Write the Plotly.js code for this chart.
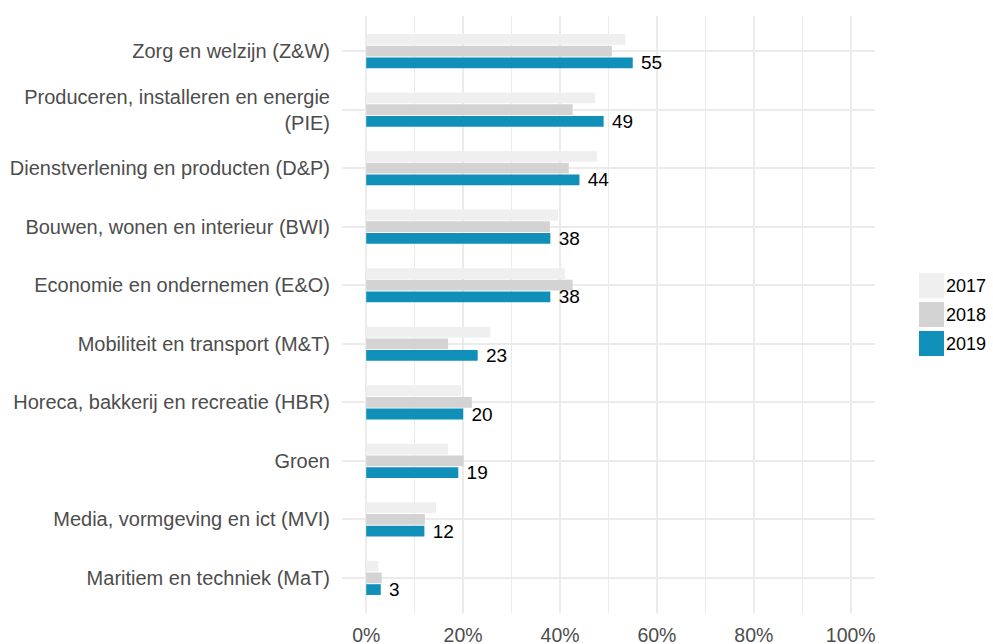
<!DOCTYPE html>
<html>
<head>
<meta charset="utf-8">
<script src="https://cdn.plot.ly/plotly-3.0.1.min.js"></script>
<style>html,body{margin:0;padding:0;background:#fff;}#chart{width:993px;height:644px;}</style>
</head>
<body>
<div id="chart"></div>
<script>
var categories = [
  "Zorg en welzijn (Z&W)",
  "Produceren, installeren en energie<br>(PIE)",
  "Dienstverlening en producten (D&P)",
  "Bouwen, wonen en interieur (BWI)",
  "Economie en ondernemen (E&O)",
  "Mobiliteit en transport (M&T)",
  "Horeca, bakkerij en recreatie (HBR)",
  "Groen",
  "Media, vormgeving en ict (MVI)",
  "Maritiem en techniek (MaT)"
];
var years = ["2017", "2018", "2019"];
var values2017 = [53.5, 47.2, 47.6, 39.6, 41.0, 25.6, 19.6, 16.9, 14.4, 2.5];
var values2018 = [50.7, 42.6, 41.8, 37.9, 42.6, 16.9, 21.8, 20.1, 12.1, 3.2];
var values2019 = [55, 49, 44, 38, 38, 23, 20, 19, 12, 3];
var labels2019 = ["55", "49", "44", "38", "38", "23", "20", "19", "12", "3"];
var xTickVals = [0, 20, 40, 60, 80, 100];
var xTickText = ["0%", "20%", "40%", "60%", "80%", "100%"];
var colors = ["#efefef", "#d3d3d3", "#108fb9"];

var series = [values2017, values2018, values2019];
var traces = series.map(function (vals, i) {
  var t = {
    type: "bar",
    orientation: "h",
    name: years[i],
    x: vals,
    y: categories,
    marker: { color: colors[i], line: { width: 0 } },
    showlegend: false,
    hoverinfo: "x+name"
  };
  if (i === 2) {
    t.text = labels2019.map(function (s) { return "\u00a0" + s; });
    t.textposition = "outside";
    t.constraintext = "none";
    t.cliponaxis = false;
    t.textfont = { family: "Liberation Sans, Arial, sans-serif", size: 19, color: "#000000" };
  }
  return t;
});

var shapes = [];
var annotations = [];
years.forEach(function (y, i) {
  var off = (1 - i) * 29;
  shapes.push({
    type: "rect", xref: "paper", yref: "paper",
    xsizemode: "pixel", ysizemode: "pixel",
    xanchor: 1, yanchor: 0.5,
    x0: 44, x1: 69, y0: off - 12.5, y1: off + 12.5,
    fillcolor: colors[i], line: { width: 0 }
  });
  annotations.push({
    xref: "paper", yref: "paper", x: 1, y: 0.5,
    xshift: 69, yshift: off, xanchor: "left", yanchor: "middle",
    text: y, showarrow: false,
    font: { family: "Liberation Sans, Arial, sans-serif", size: 18, color: "#000000" }
  });
});

var layout = {
  width: 993, height: 644,
  margin: { l: 342, r: 118, t: 16, b: 31, pad: 0 },
  paper_bgcolor: "#ffffff", plot_bgcolor: "#ffffff",
  barmode: "group", bargap: 0.4, bargroupgap: 0.08,
  font: { family: "Liberation Sans, Arial, sans-serif", size: 19, color: "#4d4d4d" },
  xaxis: {
    range: [-5, 105],
    tickvals: xTickVals, ticktext: xTickText,
    showgrid: true, gridcolor: "#ebebeb", gridwidth: 2,
    minor: { dtick: 10, tick0: 0, showgrid: true, gridcolor: "#ebebeb", gridwidth: 1.2 },
    zeroline: false, showline: false, ticks: "",
    ticklabelstandoff: 8,
    tickfont: { size: 19.5, color: "#4d4d4d" },
    fixedrange: true
  },
  yaxis: {
    type: "category",
    categoryorder: "array", categoryarray: categories,
    range: [9.6, -0.6],
    showgrid: true, gridcolor: "#ebebeb", gridwidth: 2,
    zeroline: false, showline: false, ticks: "",
    ticklabelstandoff: 11,
    tickfont: { size: 20, color: "#4d4d4d" },
    fixedrange: true
  },
  shapes: shapes,
  annotations: annotations,
  showlegend: false
};

Plotly.newPlot("chart", traces, layout, { displayModeBar: false, staticPlot: true });
</script>
</body>
</html>
